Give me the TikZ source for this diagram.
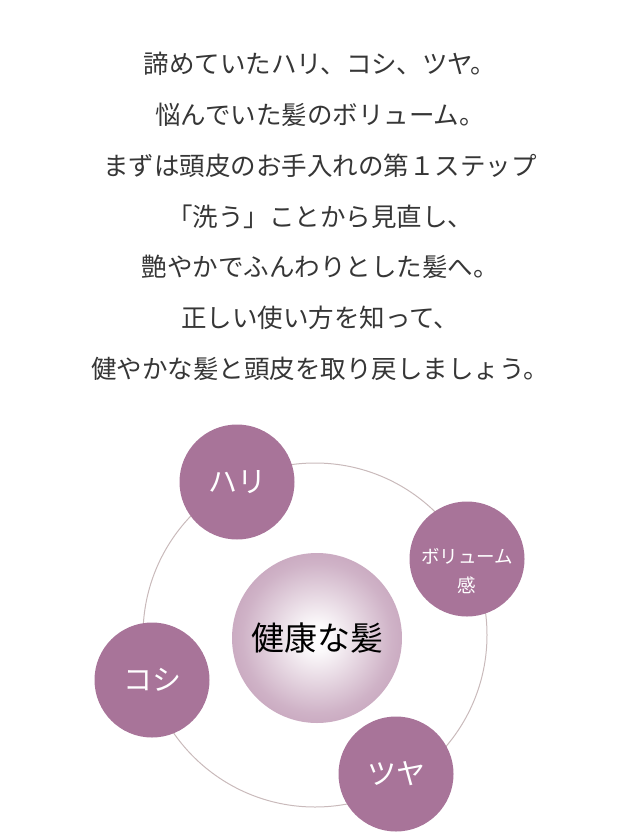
\documentclass[tikz,border=0pt]{standalone}
\usepackage{fontspec}
\usepackage{tikz}
\newfontfamily\jpfont{Noto Sans CJK JP}
\definecolor{inkgray}{HTML}{363636}
\definecolor{mauve}{HTML}{A87499}
\definecolor{ringline}{HTML}{C9BABB}
\pgfdeclareradialshading{hairglow}{\pgfpoint{0bp}{0bp}}{%
  color(0bp)=(white); color(4bp)=(white!96!mauve); color(22bp)=(mauve!55); color(38bp)=(mauve!82); color(50bp)=(mauve!95)}
\tikzset{
  leadline/.style={text=inkgray, font=\jpfont\fontsize{25.5}{30}\selectfont, inner sep=0pt},
  petal/.style={circle, fill=mauve, minimum size=115pt, inner sep=0pt, text=white,
    font=\jpfont\fontsize{29}{34}\selectfont},
  petaltext/.style={text=white, inner sep=0pt, align=center,
    font=\jpfont\fontsize{18.5}{29}\selectfont},
  hub/.style={circle, shading=hairglow, minimum size=170pt, inner sep=0pt, text=black,
    font=\jpfont\fontsize{33}{38}\selectfont},
  ring/.style={circle, draw=ringline, line width=1pt, minimum size=344pt, inner sep=0pt}
}

\begin{document}
\begin{tikzpicture}[x=1pt, y=-1pt]
  \useasboundingbox (0,0) rectangle (640,834);
  % lead text
  \node[leadline] (l1) at (320,63.5) {諦めていたハリ、コシ、ツヤ。};
  \node[leadline] (l2) at (320,114.5) {悩んでいた髪のボリューム。};
  \node[leadline] (l3) at (320,165.5) {まずは頭皮のお手入れの第１ステップ};
  \node[leadline] (l4) at (320,216.5) {「洗う」ことから見直し、};
  \node[leadline] (l5) at (320,267) {艶やかでふんわりとした髪へ。};
  \node[leadline] (l6) at (320,318) {正しい使い方を知って、};
  \node[leadline] (l7) at (320,369) {健やかな髪と頭皮を取り戻しましょう。};
  % diagram
  \node[ring] (ring) at (315,635) {};
  \node[hub] (hair) at (317,638) {健康な髪};
  \node[petal] (hari) at (237,482) {ハリ};
  \node[petal] (vol) at (467,559) {};
  \node[petaltext] (voltxt) at (467,571) {ボリューム\\感};
  \node[petal] (koshi) at (152,680) {コシ};
  \node[petal] (tsuya) at (396,774) {ツヤ};
\end{tikzpicture}
\end{document}
